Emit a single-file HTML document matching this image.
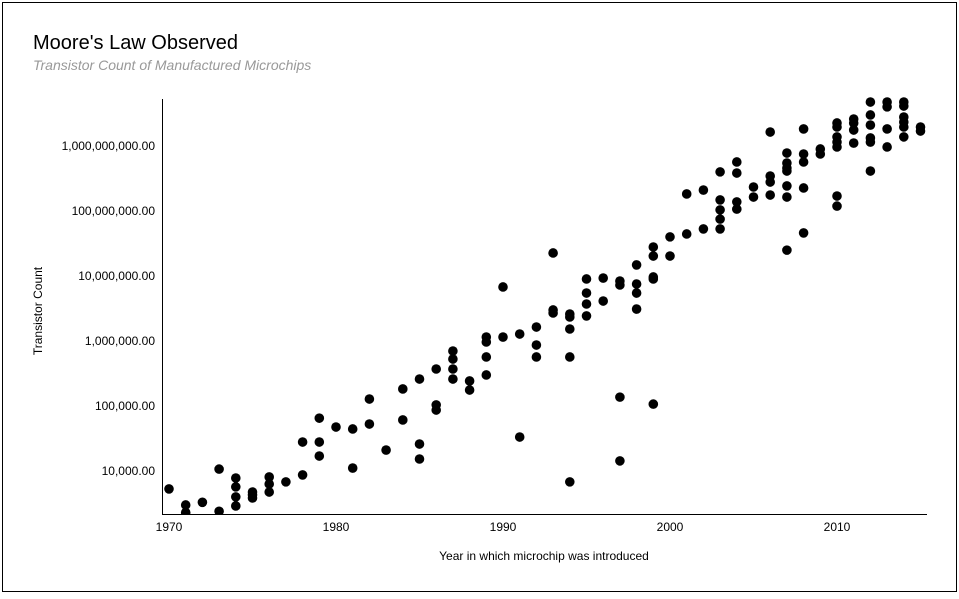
<!DOCTYPE html>
<html><head><meta charset="utf-8"><style>
body{margin:0;background:#fff;font-family:"Liberation Sans",Arial,sans-serif}
#wrap{position:relative;width:959px;height:594px}
</style></head><body>
<div id="wrap">
<svg id="chart" width="959" height="594">
<rect x="2.5" y="2.5" width="954" height="589" fill="#fff" stroke="#000" stroke-width="1"/>
<text x="33" y="49" font-size="20" fill="#000">Moore's Law Observed</text>
<text x="33" y="70" font-size="14" font-style="italic" fill="#999">Transistor Count of Manufactured Microchips</text>
<text x="544" y="560" font-size="12" text-anchor="middle">Year in which microchip was introduced</text>
<text transform="translate(42,311) rotate(-90)" font-size="12" text-anchor="middle">Transistor Count</text>
<g id="marks"></g>
<g id="axes"></g>
</svg>
</div>
<script>
const years = [1970,1971,1971,1972,1973,1973,1974,1974,1974,1974,1975,1975,1975,1976,1976,1976,1977,1978,1978,1979,1979,1979,1980,1981,1981,1982,1982,1983,1984,1984,1985,1985,1985,1986,1986,1986,1987,1987,1987,1987,1988,1988,1989,1989,1989,1989,1990,1990,1991,1991,1992,1992,1992,1993,1993,1993,1994,1994,1994,1994,1994,1995,1995,1995,1995,1996,1996,1997,1997,1997,1997,1998,1998,1998,1998,1999,1999,1999,1999,1999,2000,2000,2001,2001,2002,2002,2003,2003,2003,2003,2003,2004,2004,2004,2004,2005,2005,2006,2006,2006,2006,2007,2007,2007,2007,2007,2007,2007,2008,2008,2008,2008,2008,2009,2009,2010,2010,2010,2010,2010,2010,2010,2011,2011,2011,2011,2012,2012,2012,2012,2012,2012,2013,2013,2013,2013,2014,2014,2014,2014,2014,2014,2015,2015];
const counts = [5300,3000,2300,3300,10700,2400,7800,5700,4000,2900,4750,4300,3850,8100,6300,4750,6800,8700,27900,65000,27900,17000,47500,44300,11100,128000,52800,21000,183000,61000,260000,26000,15300,371000,104000,86700,702000,528000,371000,260000,243000,176000,1150000,966000,568000,300000,6780000,1150000,1280000,33300,1640000,867000,568000,22600000,3000000,2700000,2600000,2340000,1530000,568000,6800,9000000,5470000,3710000,2430000,9300000,4120000,8380000,7270000,137000,14300,14800000,7530000,5470000,3100000,27900000,20300000,9660000,9000000,107000,40000000,20300000,183000000,44300000,210000000,53000000,400000000,148000000,104000000,75000000,53000000,568000000,384000000,138000000,107000000,234000000,164000000,1640000000,345000000,279000000,176000000,780000000,547000000,459000000,412000000,243000000,164000000,25000000,1830000000,753000000,568000000,226000000,46000000,900000000,753000000,2260000000,1960000000,1380000000,1150000000,966000000,170000000,119000000,2600000000,2260000000,1760000000,1110000000,4750000000,3000000000,2100000000,1330000000,1150000000,412000000,4750000000,4000000000,1830000000,966000000,4750000000,4120000000,2790000000,2340000000,1960000000,1380000000,1960000000,1700000000];
const xTicks = [1970,1980,1990,2000,2010];
const yTicks = [10000,100000,1000000,10000000,100000000,1000000000];
const yTickLabels = ["10,000.00","100,000.00","1,000,000.00","10,000,000.00","100,000,000.00","1,000,000,000.00"];

const NS="http://www.w3.org/2000/svg";
const plotLeft=162,plotRight=927,plotTop=99,plotBottom=514;
function xScale(yr){return 169+(yr-1970)*16.7;}
function yScale(v){return 146-(Math.log10(v)-9)*65;}
const marks=document.getElementById('marks');
const axes=document.getElementById('axes');
const clip=document.createElementNS(NS,'clipPath');clip.setAttribute('id','plotclip');
const cr=document.createElementNS(NS,'rect');cr.setAttribute('x',plotLeft);cr.setAttribute('y',plotTop-5);cr.setAttribute('width',plotRight-plotLeft+10);cr.setAttribute('height',plotBottom-plotTop+5);
clip.appendChild(cr);document.getElementById('chart').appendChild(clip);
marks.setAttribute('clip-path','url(#plotclip)');
for(let i=0;i<years.length;i++){
  const c=document.createElementNS(NS,'circle');
  c.setAttribute('cx',xScale(years[i]));c.setAttribute('cy',yScale(counts[i]));c.setAttribute('r',4.8);c.setAttribute('fill','#000');
  
  
  marks.appendChild(c);
}
function drawLine(x1,y1,x2,y2,name){const l=document.createElementNS(NS,'line');
  l.setAttribute('x1',x1);l.setAttribute('y1',y1);l.setAttribute('x2',x2);l.setAttribute('y2',y2);l.setAttribute('stroke','#000');l.setAttribute('stroke-width',1);
  
  
  axes.appendChild(l);}
drawLine(plotLeft+0.5,plotTop,plotLeft+0.5,plotBottom,'y-axis-line');
drawLine(plotLeft,plotBottom+0.5,plotRight,plotBottom+0.5,'x-axis-line');
xTicks.forEach(t=>{const tx=document.createElementNS(NS,'text');
  tx.setAttribute('x',xScale(t));tx.setAttribute('y',531);tx.setAttribute('font-size',12);tx.setAttribute('text-anchor','middle');tx.textContent=t;
  
  
  axes.appendChild(tx);});
yTicks.forEach((t,i)=>{const tx=document.createElementNS(NS,'text');
  tx.setAttribute('x',155);tx.setAttribute('y',yScale(t)+4);tx.setAttribute('font-size',12);tx.setAttribute('text-anchor','end');tx.textContent=yTickLabels[i];
  
  
  axes.appendChild(tx);});
</script>
</body></html>
